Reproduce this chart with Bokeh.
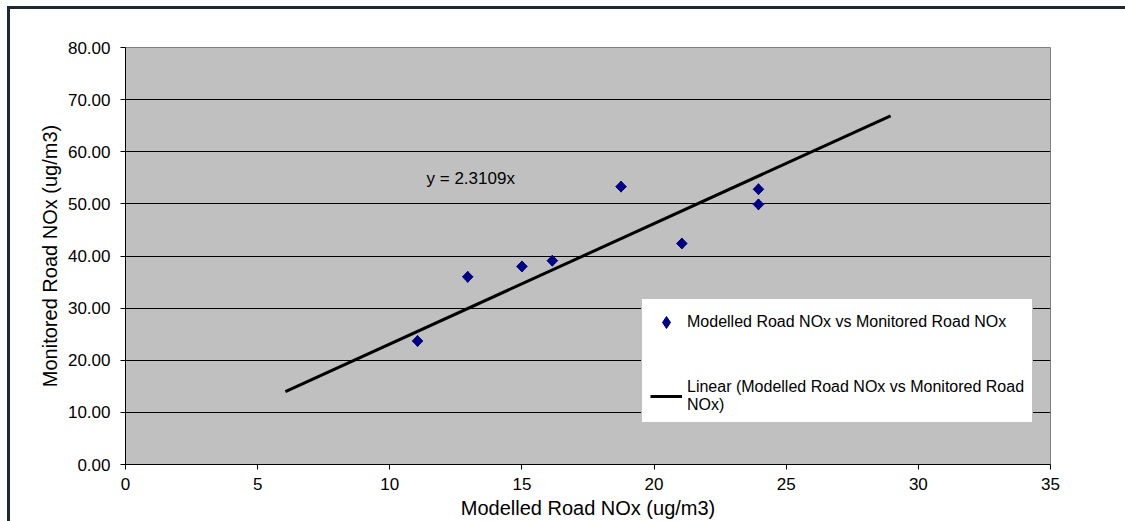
import math
from bokeh.plotting import figure
from bokeh.models import FixedTicker, NumeralTickFormatter, Legend, LegendItem, Label
from bokeh.embed import file_html
from bokeh.resources import INLINE

# Data
modelled = [11.05, 12.95, 15.0, 16.15, 18.75, 21.05, 23.95, 23.95]
monitored = [23.7, 36.0, 38.0, 39.1, 53.3, 42.4, 52.8, 49.9]
slope = 2.3109
trend_x = [6.05, 28.95]
trend_y = [slope * v for v in trend_x]
x_ticks = [0, 5, 10, 15, 20, 25, 30, 35]
y_ticks = [0, 10, 20, 30, 40, 50, 60, 70, 80]
series_label = "Modelled Road NOx vs Monitored Road NOx"
trend_label = "Linear (Modelled Road NOx vs Monitored Road\nNOx)"
eq_label = "y = 2.3109x"

FONT = "Liberation Sans"

p = figure(frame_width=925, frame_height=417, x_range=(0, 35), y_range=(0, 80),
           output_backend="svg", toolbar_location=None,
           min_border_left=115, min_border_top=38, min_border_right=75, min_border_bottom=10,
           background_fill_color="#c0c0c0", border_fill_color="white")
p.styles = {"border-top": "3px solid #1f2a30", "border-left": "3px solid #1f2a30",
            "margin-left": "7px", "margin-top": "6px"}

p.outline_line_color = "#808080"
p.outline_line_width = 1

p.xgrid.visible = False
p.ygrid.grid_line_color = "black"
p.ygrid.grid_line_width = 1
p.ygrid.ticker = FixedTicker(ticks=y_ticks)

p.xaxis.ticker = FixedTicker(ticks=x_ticks)
p.yaxis.ticker = FixedTicker(ticks=y_ticks)
p.yaxis.formatter = NumeralTickFormatter(format="0.00")

for ax in (p.xaxis[0], p.yaxis[0]):
    ax.axis_line_color = "black"
    ax.major_tick_line_color = "black"
    ax.major_tick_in = 0
    ax.major_tick_out = 5
    ax.minor_tick_line_color = None
    ax.major_label_text_font = FONT
    ax.major_label_text_font_size = "17px"
    ax.major_label_text_color = "black"
    ax.axis_label_text_font = FONT
    ax.axis_label_text_font_size = "20px"
    ax.axis_label_text_font_style = "normal"
    ax.axis_label_text_color = "black"

p.xaxis.axis_label = "Modelled Road NOx (ug/m3)"
p.yaxis.axis_label = "Monitored Road NOx (ug/m3)"
p.xaxis.major_label_standoff = 8
p.yaxis.major_label_standoff = 10
p.xaxis.axis_label_standoff = 4
p.yaxis.axis_label_standoff = 4

# diamond-shaped points (drawn under the rotated squares; used as legend swatch)
swatch = p.scatter(modelled, monitored, marker="diamond", size=11,
                   fill_color="#000080", line_color="#000080")
pts = p.scatter(modelled, monitored, marker="square", size=7.5, angle=math.pi / 4,
                fill_color="#000080", line_color="#000080")
tl = p.line(trend_x, trend_y, line_color="black", line_width=3)

p.add_layout(Label(x=11.39, y=54.9, text=eq_label, text_font=FONT,
                   text_font_size="17px", text_baseline="middle", text_align="left",
                   text_color="black"))

legend = Legend(items=[LegendItem(label=series_label, renderers=[swatch]),
                       LegendItem(label=trend_label, renderers=[tl])],
                location=(516, 41), orientation="vertical",
                background_fill_color="white", background_fill_alpha=1,
                border_line_color="#808080", border_line_width=1,
                label_text_font=FONT, label_text_font_size="16px",
                label_text_color="black",
                glyph_width=32, glyph_height=30, label_standoff=5,
                padding=8, spacing=41, margin=0, label_width=330)
p.add_layout(legend, "center")

open("out.html", "w").write(file_html(p, INLINE))
